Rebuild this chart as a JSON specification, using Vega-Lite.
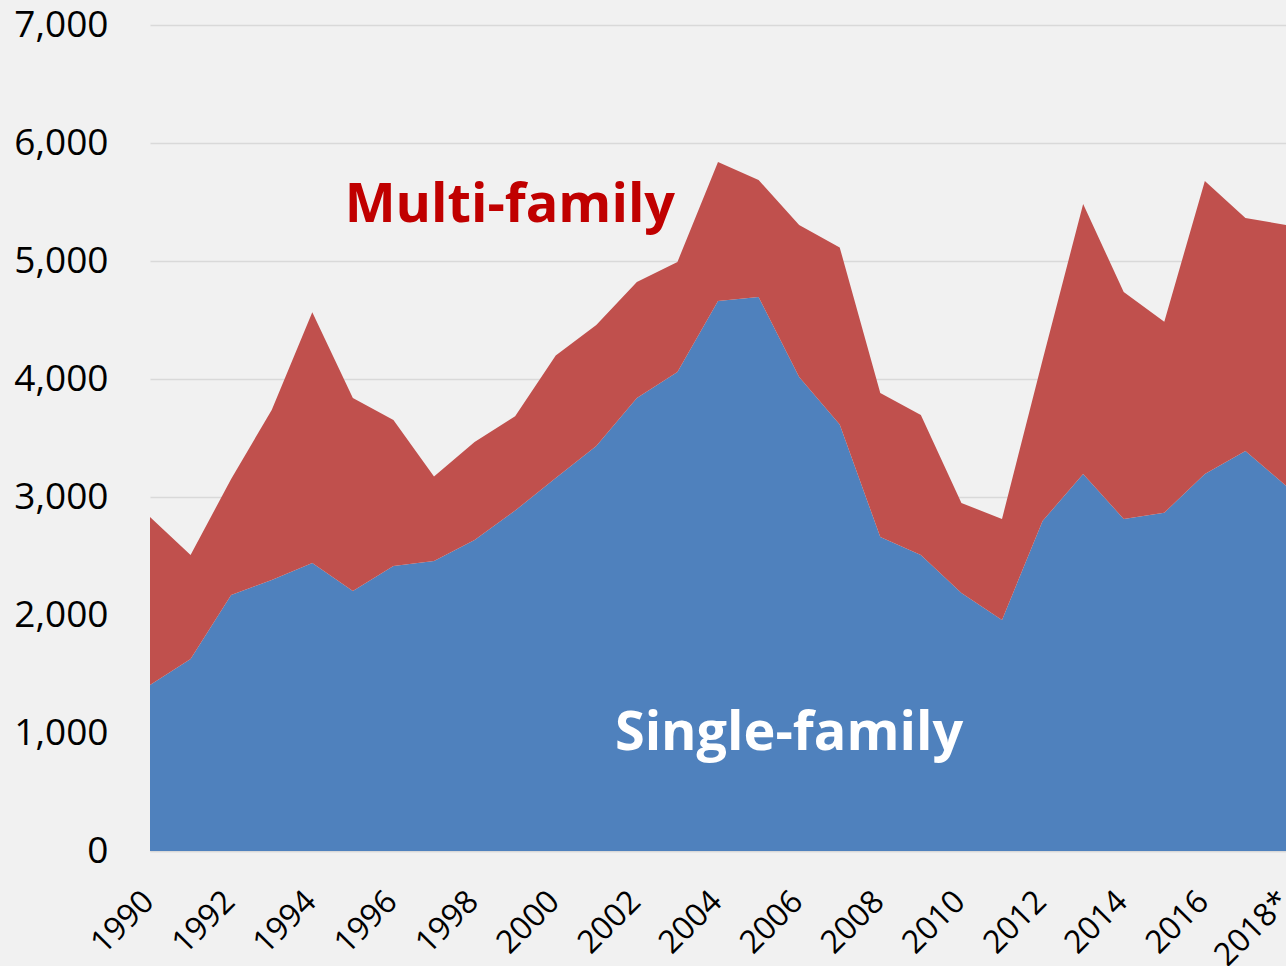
{
  "$schema": "https://vega.github.io/schema/vega-lite/v6.json",
  "width": 1136,
  "height": 826,
  "autosize": {"type": "none"},
  "padding": {"left": 150, "top": 25, "right": 0, "bottom": 115},
  "background": "#F1F1F1",
  "config": {"view": {"stroke": null}, "font": "Open Sans"},
  "layer": [
    {
      "data": {
        "values": [
          {"year": 1990, "type": "Single-family", "value": 1407}, {"year": 1990, "type": "Multi-family", "value": 1424},
          {"year": 1991, "type": "Single-family", "value": 1627}, {"year": 1991, "type": "Multi-family", "value": 881},
          {"year": 1992, "type": "Single-family", "value": 2169}, {"year": 1992, "type": "Multi-family", "value": 984},
          {"year": 1993, "type": "Single-family", "value": 2297}, {"year": 1993, "type": "Multi-family", "value": 1440},
          {"year": 1994, "type": "Single-family", "value": 2441}, {"year": 1994, "type": "Multi-family", "value": 2125},
          {"year": 1995, "type": "Single-family", "value": 2203}, {"year": 1995, "type": "Multi-family", "value": 1636},
          {"year": 1996, "type": "Single-family", "value": 2415}, {"year": 1996, "type": "Multi-family", "value": 1238},
          {"year": 1997, "type": "Single-family", "value": 2458}, {"year": 1997, "type": "Multi-family", "value": 716},
          {"year": 1998, "type": "Single-family", "value": 2636}, {"year": 1998, "type": "Multi-family", "value": 830},
          {"year": 1999, "type": "Single-family", "value": 2885}, {"year": 1999, "type": "Multi-family", "value": 800},
          {"year": 2000, "type": "Single-family", "value": 3160}, {"year": 2000, "type": "Multi-family", "value": 1040},
          {"year": 2001, "type": "Single-family", "value": 3432}, {"year": 2001, "type": "Multi-family", "value": 1026},
          {"year": 2002, "type": "Single-family", "value": 3839}, {"year": 2002, "type": "Multi-family", "value": 983},
          {"year": 2003, "type": "Single-family", "value": 4059}, {"year": 2003, "type": "Multi-family", "value": 933},
          {"year": 2004, "type": "Single-family", "value": 4661}, {"year": 2004, "type": "Multi-family", "value": 1178},
          {"year": 2005, "type": "Single-family", "value": 4695}, {"year": 2005, "type": "Multi-family", "value": 991},
          {"year": 2006, "type": "Single-family", "value": 4017}, {"year": 2006, "type": "Multi-family", "value": 1288},
          {"year": 2007, "type": "Single-family", "value": 3615}, {"year": 2007, "type": "Multi-family", "value": 1500},
          {"year": 2008, "type": "Single-family", "value": 2661}, {"year": 2008, "type": "Multi-family", "value": 1220},
          {"year": 2009, "type": "Single-family", "value": 2508}, {"year": 2009, "type": "Multi-family", "value": 1187},
          {"year": 2010, "type": "Single-family", "value": 2186}, {"year": 2010, "type": "Multi-family", "value": 763},
          {"year": 2011, "type": "Single-family", "value": 1958}, {"year": 2011, "type": "Multi-family", "value": 856},
          {"year": 2012, "type": "Single-family", "value": 2797}, {"year": 2012, "type": "Multi-family", "value": 1364},
          {"year": 2013, "type": "Single-family", "value": 3195}, {"year": 2013, "type": "Multi-family", "value": 2288},
          {"year": 2014, "type": "Single-family", "value": 2814}, {"year": 2014, "type": "Multi-family", "value": 1923},
          {"year": 2015, "type": "Single-family", "value": 2867}, {"year": 2015, "type": "Multi-family", "value": 1619},
          {"year": 2016, "type": "Single-family", "value": 3195}, {"year": 2016, "type": "Multi-family", "value": 2483},
          {"year": 2017, "type": "Single-family", "value": 3390}, {"year": 2017, "type": "Multi-family", "value": 1974},
          {"year": 2018, "type": "Single-family", "value": 3095}, {"year": 2018, "type": "Multi-family", "value": 2210}
        ]
      },
      "mark": {"type": "area", "opacity": 1},
      "encoding": {
        "x": {
          "field": "year",
          "type": "quantitative",
          "scale": {"domain": [1990, 2018], "nice": false, "zero": false},
          "axis": {
            "values": [1990, 1992, 1994, 1996, 1998, 2000, 2002, 2004, 2006, 2008, 2010, 2012, 2014, 2016, 2018],
            "format": "d",
            "labelExpr": "datum.value == 2018 ? '2018*' : datum.label",
            "labelAngle": -45,
            "labelAlign": "right",
            "labelBaseline": "middle",
            "labelFontSize": 32,
            "labelColor": "#000000",
            "labelFlush": false,
            "labelOverlap": false,
            "labelPadding": 45,
            "labelOffset": -2,
            "ticks": false,
            "grid": false,
            "domainColor": "#D9D9D9",
            "domainWidth": 1.5,
            "title": null
          }
        },
        "y": {
          "field": "value",
          "type": "quantitative",
          "stack": "zero",
          "scale": {"domain": [0, 7000], "nice": false},
          "axis": {
            "values": [0, 1000, 2000, 3000, 4000, 5000, 6000, 7000],
            "format": ",.0f",
            "labelFontSize": 37,
            "labelColor": "#000000",
            "labelPadding": 42,
            "ticks": false,
            "domain": false,
            "gridColor": "#D9D9D9",
            "gridWidth": 1.5,
            "title": null
          }
        },
        "color": {
          "field": "type",
          "type": "nominal",
          "scale": {"domain": ["Single-family", "Multi-family"], "range": ["#4F81BD", "#C0504D"]},
          "legend": null
        },
        "order": {"field": "type", "sort": "descending"}
      }
    },
    {
      "data": {"values": [{}]},
      "mark": {"type": "text", "text": "Multi-family", "fontSize": 54, "fontWeight": "bold", "color": "#C00000", "align": "center", "baseline": "alphabetic"},
      "encoding": {"x": {"datum": 1998.87}, "y": {"datum": 5331}}
    },
    {
      "data": {"values": [{}]},
      "mark": {"type": "text", "text": "Single-family", "fontSize": 54, "fontWeight": "bold", "color": "#FFFFFF", "align": "center", "baseline": "alphabetic"},
      "encoding": {"x": {"datum": 2005.75}, "y": {"datum": 856}}
    }
  ]
}
